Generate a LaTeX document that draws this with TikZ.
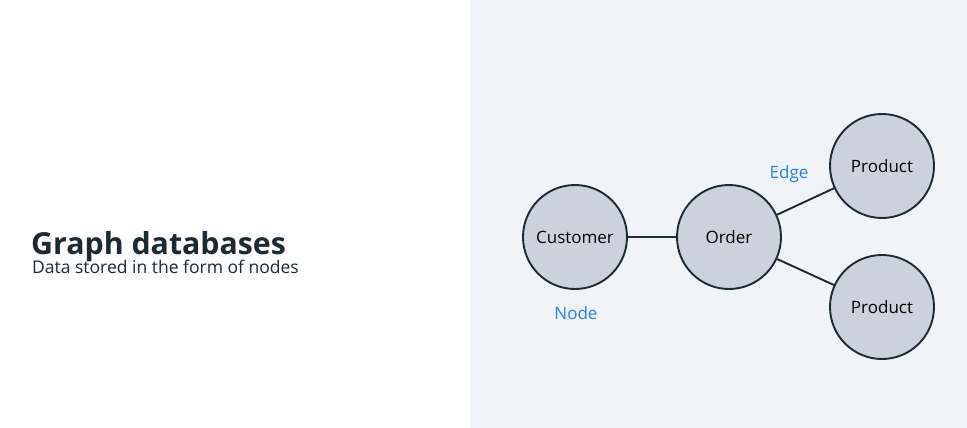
\documentclass[tikz,border=0pt]{standalone}
\usepackage{fontspec}
\setmainfont{Open Sans}
\definecolor{panel}{HTML}{F0F3F8}
\definecolor{nodefill}{HTML}{CBD2DC}
\definecolor{ink}{HTML}{1C2B33}
\definecolor{accent}{HTML}{2D7FE0}
\begin{document}
\begin{tikzpicture}[x=1pt,y=-1pt,
  gnode/.style={circle,draw=ink,fill=nodefill,line width=1.9pt,minimum size=104pt,inner sep=0pt,text=black,font=\fontsize{17}{20}\selectfont},
  link/.style={draw=ink,line width=1.9pt},
  tag/.style={text=accent,font=\fontsize{17}{20}\selectfont}]
\fill[white] (0,0) rectangle (967,428);
\fill[panel] (470,0) rectangle (967,428);
\useasboundingbox (0,0) rectangle (967,428);
\node[anchor=base west,inner sep=0pt,text=ink,font=\fontsize{30.3}{36}\selectfont\bfseries] (title) at (31,254) {Graph databases};
\node[anchor=base west,inner sep=0pt,text=ink,font=\fontsize{17.5}{21}\selectfont] (sub) at (32,273) {Data stored in the form of nodes};
\node[gnode] (cust) at (575,237) {Customer};
\node[gnode] (order) at (729,237) {Order};
\node[gnode] (p1) at (882,166) {Product};
\node[gnode] (p2) at (882,307) {Product};
\draw[link] (cust) -- (order);
\draw[link] (order) -- (p1);
\draw[link] (order) -- (p2);
\node[tag] (edgelbl) at (789,174) {Edge};
\node[tag] (nodelbl) at (576,313) {Node};
\end{tikzpicture}
\end{document}
